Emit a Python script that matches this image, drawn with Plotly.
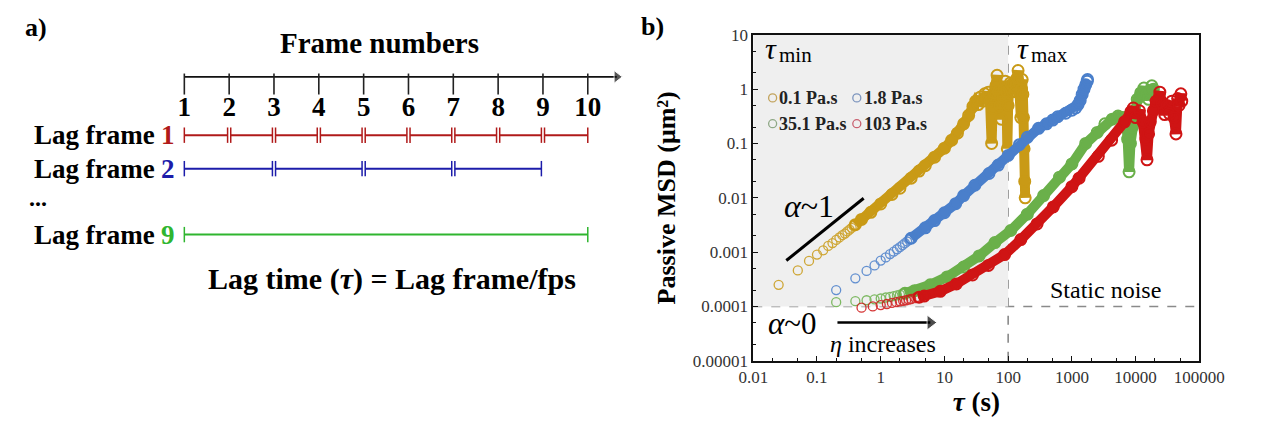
import numpy as np
import plotly.graph_objects as go

W, H = 1265, 431
SERIF = "Liberation Serif"

# ---------------- Panel a data ----------------
frame_numbers = [1, 2, 3, 4, 5, 6, 7, 8, 9, 10]
lag_frames = [1, 2, 9]
lag_colors = ["#b01a1a", "#1c1caa", "#2fb52f"]

# ---------------- Panel b data ----------------
series_names = ["0.1 Pa.s", "1.8 Pa.s", "35.1 Pa.s", "103 Pa.s"]
series_colors = ["#c99a16", "#4a7fcb", "#6ab04a", "#cf1414"]
legend_colors = ["#c2a35c", "#7d95be", "#8fa886", "#c96070"]

# 0.1 Pa.s (gold)
gold_tau_pts = [0.025, 0.05, 0.075, 0.1, 0.125, 0.15, 0.175, 0.2, 0.225, 0.25, 0.275, 0.3, 0.325, 0.35, 0.375, 0.4]
gold_msd_pts = [0.00025, 0.00046, 0.00069, 0.0009, 0.00108, 0.0013, 0.00147, 0.00168, 0.00186, 0.00205, 0.0022, 0.0024, 0.0026, 0.0028, 0.003, 0.0032]
gold_tau_band = [0.4, 0.5, 0.7, 1.0, 1.5, 2, 3, 4, 5, 7, 10, 13, 16, 20, 24, 28, 31, 34, 37, 40, 43, 46,
                 49, 52, 55, 57, 60, 64, 67, 70, 74, 78, 82, 86, 90, 94, 97, 100, 104, 108, 112, 116,
                 120, 124, 128, 132, 138, 143, 148, 153, 158, 162, 166, 170, 174, 178, 182, 185]
gold_msd_band = [0.0032, 0.004, 0.0054, 0.0077, 0.0115, 0.015, 0.023, 0.031, 0.039, 0.056, 0.082, 0.115, 0.155,
                 0.23, 0.33, 0.48, 0.6, 0.52, 0.72, 0.6, 0.82, 0.68, 0.88, 0.6, 0.1, 0.45, 0.85, 1.15, 1.8,
                 0.9, 0.5, 0.28, 0.7, 1.0, 1.4, 0.9, 0.08, 0.5, 1.0, 1.3, 1.2, 0.9, 1.1, 1.3, 0.9, 1.2, 1.6,
                 2.2, 1.3, 0.8, 0.3, 1.0, 1.5, 0.8, 0.3, 0.08, 0.02, 0.01]

# 1.8 Pa.s (blue)
blue_tau_pts = [0.2, 0.4, 0.6, 0.8, 1.0, 1.2, 1.4, 1.6, 1.8, 2.0, 2.2, 2.4, 2.6, 2.8, 3.0]
blue_msd_pts = [0.0002, 0.00033, 0.00045, 0.00057, 0.0007, 0.0008, 0.00092, 0.00102, 0.00113, 0.00124,
                0.00135, 0.00146, 0.00157, 0.00168, 0.0018]
blue_tau_band = [3, 5, 7, 10, 15, 20, 30, 50, 70, 100, 150, 200, 300, 400, 500, 600, 800, 1000, 1150,
                 1250, 1350, 1450, 1550, 1650, 1740, 1760]
blue_msd_band = [0.0018, 0.0028, 0.0038, 0.0053, 0.0078, 0.011, 0.017, 0.028, 0.04, 0.06, 0.095, 0.13,
                 0.19, 0.23, 0.27, 0.31, 0.36, 0.41, 0.45, 0.52, 0.62, 0.8, 1.0, 1.2, 1.4, 1.5]

# 35.1 Pa.s (green)
green_tau_pts = [0.2, 0.4, 0.6, 0.8, 1.0, 1.2, 1.4, 1.6, 1.8, 2.0, 2.2, 2.4]
green_msd_pts = [0.00012, 0.000125, 0.00013, 0.000135, 0.00014, 0.000146, 0.00015, 0.000155, 0.00016,
                 0.000165, 0.00017, 0.000175]
green_tau_band = [2.4, 3.4, 6, 11, 20, 35, 62, 110, 200, 360, 640, 1000, 1650, 2500, 3300, 4300, 5300,
                  6200, 7000, 7500, 7900, 8300, 8900, 9600, 10600, 12000, 13500, 15000, 16000, 17000,
                  18000, 19000, 20000]
green_msd_band = [0.000175, 0.000195, 0.00025, 0.00035, 0.00053, 0.00085, 0.0015, 0.0025, 0.005, 0.011,
                  0.024, 0.042, 0.1, 0.16, 0.23, 0.28, 0.32, 0.3, 0.3, 0.12, 0.03, 0.1, 0.2, 0.4, 0.65,
                  0.85, 1.05, 0.8, 0.65, 0.9, 1.15, 1.0, 0.7]

# 103 Pa.s (red)
red_tau_pts = [0.5, 0.75, 1.0, 1.25, 1.5, 1.75, 2.0, 2.25, 2.5, 2.75, 3.0, 3.5, 4.0]
red_msd_pts = [0.000095, 0.0001, 0.000106, 0.000111, 0.000116, 0.00012, 0.000124, 0.000127, 0.00013,
               0.000134, 0.000137, 0.000143, 0.000148]
red_tau_band = [4, 4.8, 8.6, 15.4, 27.6, 49, 88, 158, 284, 510, 1000, 1300, 2600, 4200, 6700, 8400, 9200,
                10000, 11500, 13000, 14500, 15100, 16000, 17000, 19000, 21000, 24000, 26000, 28600,
                31000, 34000, 37000, 40000, 43000, 45700, 48000, 51300, 53000]
red_msd_band = [0.000148, 0.000155, 0.00019, 0.00026, 0.00038, 0.00057, 0.0009, 0.0017, 0.0033, 0.0068,
                0.016, 0.023, 0.058, 0.115, 0.25, 0.38, 0.45, 0.3, 0.4, 0.25, 0.12, 0.05, 0.15, 0.25,
                0.4, 0.6, 0.88, 0.55, 0.34, 0.5, 0.35, 0.6, 0.3, 0.15, 0.67, 0.5, 0.82, 0.6]

sparse_tau = [gold_tau_pts, blue_tau_pts, green_tau_pts, red_tau_pts]
sparse_msd = [gold_msd_pts, blue_msd_pts, green_msd_pts, red_msd_pts]
band_tau = [gold_tau_band, blue_tau_band, green_tau_band, red_tau_band]
band_msd = [gold_msd_band, blue_msd_band, green_msd_band, red_msd_band]

x_tick_vals = [0.01, 0.1, 1, 10, 100, 1000, 10000, 100000]
x_tick_text = ["0.01", "0.1", "1", "10", "100", "1000", "10000", "100000"]
y_tick_vals = [0.00001, 0.0001, 0.001, 0.01, 0.1, 1, 10]
y_tick_text = ["0.00001", "0.0001", "0.001", "0.01", "0.1", "1", "10"]

TAU_MIN_RANGE = 0.01
TAU_MAX = 100
NOISE_FLOOR = 0.0001
MSD_TOP = 10
alpha1_tau = [0.033, 0.54]
alpha1_msd = [0.0007, 0.0098]

# ---------------- geometry helpers (layout only) ----------------
bx0, bx1, by0, by1 = 763, 1224, 27, 368


def px_x(p):
    return p / W


def px_y(p):
    return 1 - p / H


def bx(p):  # pixel -> log10 tau in panel b
    return -2 + (p - bx0) / ((bx1 - bx0) / 7)


def by(p):  # pixel -> log10 msd in panel b
    return 1 - (p - by0) / ((by1 - by0) / 6)


def fx(p):  # pixel -> frame units in panel a
    return 1 + (p - 175) / 46.33


fig = go.Figure()

# ---------------- Panel b traces ----------------
for i in range(4):
    c = series_colors[i]
    fig.add_trace(go.Scatter(
        x=band_tau[i], y=band_msd[i], mode="lines+markers", name=series_names[i],
        line=dict(color=c, width=10),
        marker=dict(symbol="circle-open", size=11, color=c, line=dict(width=2, color=c)),
        xaxis="x", yaxis="y", showlegend=False, hoverinfo="skip"))
    fig.add_trace(go.Scatter(
        x=sparse_tau[i], y=sparse_msd[i], mode="markers", name=series_names[i],
        marker=dict(symbol="circle-open", size=9, color=c, line=dict(width=1.3, color=c)),
        opacity=0.85, xaxis="x", yaxis="y", showlegend=False, hoverinfo="skip"))

fig.add_trace(go.Scatter(x=alpha1_tau, y=alpha1_msd, mode="lines",
                         line=dict(color="black", width=3), xaxis="x", yaxis="y",
                         showlegend=False, hoverinfo="skip"))

# eta arrow
fig.add_trace(go.Scatter(
    x=[10 ** bx(850), 10 ** bx(946)], y=[10 ** by(328)] * 2, mode="lines+markers",
    line=dict(color="black", width=2.5),
    marker=dict(symbol=["circle", "triangle-right"], size=[0, 13], color="black"),
    xaxis="x", yaxis="y", showlegend=False, hoverinfo="skip"))

# legend symbols (2x2)
leg_px = [(783, 93), (870, 93), (783, 120), (870, 120)]
fig.add_trace(go.Scatter(
    x=[10 ** bx(p[0]) for p in leg_px], y=[10 ** by(p[1]) for p in leg_px], mode="markers",
    marker=dict(symbol="circle-open", size=8, color=legend_colors,
                line=dict(width=1.3, color=legend_colors)),
    xaxis="x", yaxis="y", showlegend=False, hoverinfo="skip"))

# ---------------- Panel a traces ----------------
AXIS_Y, TICK_Y, LABEL_Y = 71, 78.5, 105
row_y = {1: 132, 2: 167, 9: 236}
fig.add_trace(go.Scatter(
    x=[fx(175), fx(622)], y=[AXIS_Y, AXIS_Y], mode="lines+markers",
    line=dict(color="#111", width=1.6),
    marker=dict(symbol=["circle", "triangle-right"], size=[0, 11], color="#111"),
    xaxis="x2", yaxis="y2", showlegend=False, hoverinfo="skip"))
fig.add_trace(go.Scatter(
    x=frame_numbers, y=[TICK_Y] * len(frame_numbers), mode="markers",
    marker=dict(symbol="line-ns", size=15, line=dict(width=1.6, color="#222")),
    xaxis="x2", yaxis="y2", showlegend=False, hoverinfo="skip"))
fig.add_trace(go.Scatter(
    x=frame_numbers, y=[LABEL_Y] * len(frame_numbers), mode="text",
    text=[str(f) for f in frame_numbers],
    textfont=dict(family=SERIF, size=27, color="black", weight="bold"),
    xaxis="x2", yaxis="y2", showlegend=False, hoverinfo="skip"))

gap = 0.035
last = frame_numbers[-1]
for L, c in zip(lag_frames, lag_colors):
    xs, ys = [], []
    for s in range(frame_numbers[0], last - L + 1, L):
        e = s + L
        x0 = s + (gap if s != frame_numbers[0] else 0)
        x1 = e - (gap if e != last else 0)
        xs += [x0, x1, None]
        ys += [row_y[L], row_y[L], None]
    fig.add_trace(go.Scatter(
        x=xs, y=ys, mode="lines+markers",
        line=dict(color=c, width=2),
        marker=dict(symbol="line-ns", size=11, color=c, line=dict(width=1.5, color=c)),
        xaxis="x2", yaxis="y2", showlegend=False, hoverinfo="skip"))

# ---------------- Layout ----------------
ax_common = dict(showgrid=False, zeroline=False)

fig.update_layout(
    width=W, height=H, margin=dict(l=0, r=0, t=0, b=0),
    paper_bgcolor="white", plot_bgcolor="rgba(0,0,0,0)",
    font=dict(family=SERIF, color="black"),
    xaxis=dict(type="log", range=[-2, 5], domain=[px_x(bx0), px_x(bx1)], anchor="y",
               showline=True, linecolor="#111", linewidth=1.5, mirror=True,
               ticks="inside", ticklen=5, tickwidth=1, tickcolor="#111",
               tickvals=x_tick_vals, ticktext=x_tick_text,
               tickfont=dict(family=SERIF, size=17, color="#333"),
               minor=dict(ticks="inside", ticklen=3, tickcolor="#111", showgrid=False),
               title=dict(text="<b><i>τ</i> (s)</b>", font=dict(family=SERIF, size=27), standoff=6),
               **ax_common),
    yaxis=dict(type="log", range=[-5, 1], domain=[px_y(by1), px_y(by0)], anchor="x",
               showline=True, linecolor="#111", linewidth=1.5, mirror=True,
               ticks="inside", ticklen=5, tickwidth=1, tickcolor="#111",
               tickvals=y_tick_vals, ticktext=y_tick_text,
               tickfont=dict(family=SERIF, size=17, color="#333"),
               minor=dict(ticks="inside", ticklen=3, tickcolor="#111", showgrid=False),
               title=dict(text="<b>Passive MSD (μm²)</b>", font=dict(family=SERIF, size=26),
                          standoff=10),
               **ax_common),
    xaxis2=dict(domain=[0, 0.5], range=[fx(0), fx(632.5)], anchor="y2", visible=False, **ax_common),
    yaxis2=dict(domain=[0, 1], range=[H, 0], anchor="x2", visible=False, **ax_common),
)

shapes = [
    dict(type="rect", xref="x", yref="y", x0=TAU_MIN_RANGE, x1=TAU_MAX, y0=NOISE_FLOOR, y1=MSD_TOP,
         fillcolor="#efefef", line=dict(width=0), layer="below"),
    dict(type="line", xref="x", yref="y domain", x0=TAU_MAX, x1=TAU_MAX, y0=0, y1=1,
         line=dict(color="#8a8a8a", width=1.6, dash="dash"), layer="below"),
    dict(type="line", xref="x domain", yref="y", x0=0, x1=1, y0=NOISE_FLOOR, y1=NOISE_FLOOR,
         line=dict(color="#8a8a8a", width=1.6, dash="dash"), layer="below"),
]
fig.update_layout(shapes=shapes)

ann = []
# panel labels
ann.append(dict(xref="paper", yref="paper", x=px_x(8), y=px_y(19), xanchor="left", yanchor="middle",
                text="<b>a)</b>", showarrow=False, font=dict(family=SERIF, size=26)))
ann.append(dict(xref="paper", yref="paper", x=px_x(645), y=px_y(18), xanchor="left", yanchor="middle",
                text="<b>b)</b>", showarrow=False, font=dict(family=SERIF, size=26)))

# panel b texts
b_texts = [
    dict(x=bx(773), y=by(41), text="<i>τ</i>", xanchor="left", yanchor="middle",
         font=dict(family=SERIF, size=30)),
    dict(x=bx(788), y=by(48), text="min", xanchor="left", yanchor="middle",
         font=dict(family=SERIF, size=21)),
    dict(x=bx(1033), y=by(41), text="<i>τ</i>", xanchor="left", yanchor="middle",
         font=dict(family=SERIF, size=30)),
    dict(x=bx(1048), y=by(48), text="max", xanchor="left", yanchor="middle",
         font=dict(family=SERIF, size=21)),
    dict(x=bx(1127), y=by(294), text="Static noise", xanchor="center", yanchor="middle",
         font=dict(family=SERIF, size=24)),
    dict(x=bx(776), y=by(329), text="<i>α</i>~0", xanchor="left", yanchor="middle",
         font=dict(family=SERIF, size=31)),
    dict(x=bx(793), y=by(206), text="<i>α</i>~1", xanchor="left", yanchor="middle",
         font=dict(family=SERIF, size=32)),
    dict(x=bx(897), y=by(350), text="<i>η</i> increases", xanchor="center", yanchor="middle",
         font=dict(family=SERIF, size=24)),
]
for a in b_texts:
    a.update(xref="x", yref="y", showarrow=False)
ann += b_texts

# legend texts
for (lx, ly), name in zip(leg_px, series_names):
    ann.append(dict(xref="x", yref="y", x=bx(lx + 5), y=by(ly), xanchor="left", yanchor="middle",
                    showarrow=False, text=f"<b>{name}</b>",
                    font=dict(family=SERIF, size=18, color="#222")))

# panel a texts
a_texts = [
    dict(x=fx(377), y=36, text="<b>Frame numbers</b>", xanchor="center", yanchor="middle",
         font=dict(family=SERIF, size=29)),
    dict(x=fx(390), y=282, text="<b>Lag time (<i>τ</i>) = Lag frame/fps</b>", xanchor="center",
         yanchor="middle", font=dict(family=SERIF, size=30)),
    dict(x=fx(12), y=198, text="<b>...</b>", xanchor="left", yanchor="middle",
         font=dict(family=SERIF, size=24)),
]
for L, c in zip(lag_frames, lag_colors):
    a_texts.append(dict(x=fx(147), y=row_y[L], text="<b>Lag frame</b>",
                        xanchor="right", yanchor="middle", font=dict(family=SERIF, size=27)))
    a_texts.append(dict(x=fx(167), y=row_y[L], text=f"<b>{L}</b>",
                        xanchor="right", yanchor="middle", font=dict(family=SERIF, size=27, color=c)))
for a in a_texts:
    a.update(xref="x2", yref="y2", showarrow=False)
ann += a_texts

fig.update_layout(annotations=ann)
fig.write_html("out.html")
